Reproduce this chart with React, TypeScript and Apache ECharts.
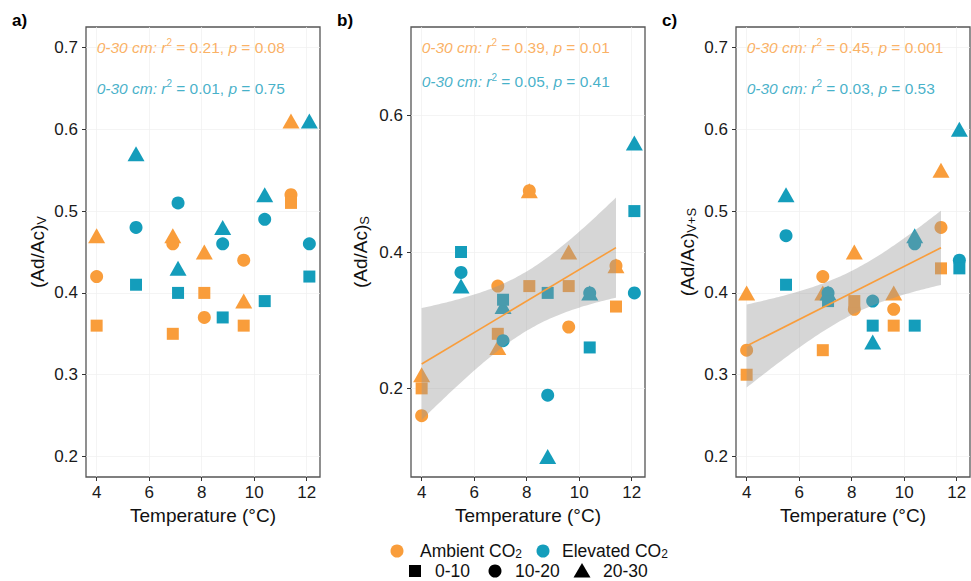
import React, { useEffect, useRef } from 'react';
import * as echarts from 'echarts';

// ---------- data ----------
const ambientTemps = [4, 6.9, 8.1, 9.6, 11.4];
const elevatedTemps = [5.5, 7.1, 8.8, 10.4, 12.1];
const depthLabels = ['0-10', '10-20', '20-30'];
const xTicks = [4, 6, 8, 10, 12];
const yTicksAC = [0.2, 0.3, 0.4, 0.5, 0.6, 0.7];
const yTicksB = [0.2, 0.4, 0.6];

// Panel a: (Ad/Ac)V
const vAmbient010 = [0.36, 0.35, 0.4, 0.36, 0.51];
const vAmbient1020 = [0.42, 0.46, 0.37, 0.44, 0.52];
const vAmbient2030 = [0.47, 0.47, 0.45, 0.39, 0.61];
const vElevated010 = [0.41, 0.4, 0.37, 0.39, 0.42];
const vElevated1020 = [0.48, 0.51, 0.46, 0.49, 0.46];
const vElevated2030 = [0.57, 0.43, 0.48, 0.52, 0.61];

// Panel b: (Ad/Ac)S
const sAmbient010 = [0.2, 0.28, 0.35, 0.35, 0.32];
const sAmbient1020 = [0.16, 0.35, 0.49, 0.29, 0.38];
const sAmbient2030 = [0.22, 0.26, 0.49, 0.4, 0.38];
const sElevated010 = [0.4, 0.33, 0.34, 0.26, 0.46];
const sElevated1020 = [0.37, 0.27, 0.19, 0.34, 0.34];
const sElevated2030 = [0.35, 0.32, 0.1, 0.34, 0.56];

// Panel c: (Ad/Ac)V+S
const vsAmbient010 = [0.3, 0.33, 0.39, 0.36, 0.43];
const vsAmbient1020 = [0.33, 0.42, 0.38, 0.38, 0.48];
const vsAmbient2030 = [0.4, 0.4, 0.45, 0.4, 0.55];
const vsElevated010 = [0.41, 0.39, 0.36, 0.36, 0.43];
const vsElevated1020 = [0.47, 0.4, 0.39, 0.46, 0.44];
const vsElevated2030 = [0.52, 0.4, 0.34, 0.47, 0.6];

// statistics text
const panelLetters = ['a)', 'b)', 'c)'];
const ySubscripts = ['V', 'S', 'V+S'];
const r2Ambient = ['0.21', '0.39', '0.45'];
const pAmbient = ['0.08', '0.01', '0.001'];
const r2Elevated = ['0.01', '0.05', '0.03'];
const pElevated = ['0.75', '0.41', '0.53'];
const showFit = [false, true, true];

// ---------- styles / layout ----------
const ORANGE = '#F99D3B';
const BLUE = '#149DBB';
const FONT = "'Liberation Sans', Arial, Helvetica, sans-serif";
const gridLefts = [86, 411, 736];
const gridTop = 27;
const gridWidth = 234;
const gridHeight = 450;
const yTitleX = [37, 360, 687];
const letterX = [12, 337, 662];
const yRanges = [
  [0.175, 0.725],
  [0.07, 0.73],
  [0.175, 0.725],
];
const symbols = ['rect', 'circle', 'triangle'];
const symbolSizes: any[] = [12, 13, [17, 15]];
const T95_DF13 = 2.1604;

const panelAmbient = [
  [vAmbient010, vAmbient1020, vAmbient2030],
  [sAmbient010, sAmbient1020, sAmbient2030],
  [vsAmbient010, vsAmbient1020, vsAmbient2030],
];
const panelElevated = [
  [vElevated010, vElevated1020, vElevated2030],
  [sElevated010, sElevated1020, sElevated2030],
  [vsElevated010, vsElevated1020, vsElevated2030],
];

function linearFit(xs: number[], ys: number[]) {
  const n = xs.length;
  const mx = xs.reduce((a, b) => a + b, 0) / n;
  const my = ys.reduce((a, b) => a + b, 0) / n;
  let sxx = 0;
  let sxy = 0;
  for (let i = 0; i < n; i++) {
    sxx += (xs[i] - mx) ** 2;
    sxy += (xs[i] - mx) * (ys[i] - my);
  }
  const slope = sxy / sxx;
  const intercept = my - slope * mx;
  let sse = 0;
  for (let i = 0; i < n; i++) sse += (ys[i] - intercept - slope * xs[i]) ** 2;
  const s = Math.sqrt(sse / (n - 2));
  const xmin = Math.min(...xs);
  const xmax = Math.max(...xs);
  const upper: number[][] = [];
  const lower: number[][] = [];
  const steps = 80;
  for (let k = 0; k < steps; k++) {
    const x = xmin + ((xmax - xmin) * k) / (steps - 1);
    const yhat = intercept + slope * x;
    const se = s * Math.sqrt(1 / n + (x - mx) ** 2 / sxx);
    upper.push([x, yhat + T95_DF13 * se]);
    lower.push([x, yhat - T95_DF13 * se]);
  }
  return {
    line: [
      [xmin, intercept + slope * xmin],
      [xmax, intercept + slope * xmax],
    ],
    upper,
    lower,
  };
}

function buildOption() {
  const grids: any[] = [];
  const xAxes: any[] = [];
  const yAxes: any[] = [];
  const series: any[] = [];
  const graphics: any[] = [];

  for (let i = 0; i < 3; i++) {
    grids.push({
      left: gridLefts[i],
      top: gridTop,
      width: gridWidth,
      height: gridHeight,
      show: true,
      borderColor: '#555555',
      borderWidth: 1.3,
      backgroundColor: 'transparent',
      containLabel: false,
      outerBoundsMode: 'none',
    });
    xAxes.push({
      type: 'value',
      gridIndex: i,
      min: 3.595,
      max: 12.505,
      axisLine: { show: false },
      axisTick: { show: true, length: 4, lineStyle: { color: '#333', width: 1 }, customValues: xTicks },
      axisLabel: { customValues: xTicks, fontSize: 17, color: '#1a1a1a', margin: 7, fontFamily: FONT },
      splitLine: { show: true, lineStyle: { color: '#EFEFEF', width: 0.7 } },
      name: 'Temperature (°C)',
      nameLocation: 'middle',
      nameGap: 25,
      nameTextStyle: { fontSize: 19, color: '#111', fontFamily: FONT },
    });
    const yt = i === 1 ? yTicksB : yTicksAC;
    yAxes.push({
      type: 'value',
      gridIndex: i,
      min: yRanges[i][0],
      max: yRanges[i][1],
      axisLine: { show: false },
      axisTick: { show: true, length: 4, lineStyle: { color: '#333', width: 1 }, customValues: yt },
      axisLabel: {
        customValues: yt,
        fontSize: 17,
        color: '#1a1a1a',
        margin: 8,
        fontFamily: FONT,
        formatter: (v: number) => v.toFixed(1),
      },
      splitLine: { show: true, lineStyle: { color: '#EFEFEF', width: 0.7 } },
    });

    // points
    for (let d = 2; d >= 0; d--) {
      series.push({
        type: 'scatter',
        name: 'Ambient ' + depthLabels[d],
        xAxisIndex: i,
        yAxisIndex: i,
        symbol: symbols[d],
        symbolSize: symbolSizes[d],
        itemStyle: { color: ORANGE, opacity: 1 },
        silent: true,
        z: 2,
        data: ambientTemps.map((t, j) => [t, panelAmbient[i][d][j]]),
      });
    }
    for (let d = 2; d >= 0; d--) {
      series.push({
        type: 'scatter',
        name: 'Elevated ' + depthLabels[d],
        xAxisIndex: i,
        yAxisIndex: i,
        symbol: symbols[d],
        symbolSize: symbolSizes[d],
        itemStyle: { color: BLUE, opacity: 1 },
        silent: true,
        z: 2,
        data: elevatedTemps.map((t, j) => [t, panelElevated[i][d][j]]),
      });
    }

    // regression for ambient
    if (showFit[i]) {
      const xs: number[] = [];
      const ys: number[] = [];
      for (let d = 0; d < 3; d++) {
        ambientTemps.forEach((t, j) => {
          xs.push(t);
          ys.push(panelAmbient[i][d][j]);
        });
      }
      const fit = linearFit(xs, ys);
      const upper = fit.upper;
      const lower = fit.lower.slice().reverse();
      series.push({
        type: 'custom',
        xAxisIndex: i,
        yAxisIndex: i,
        silent: true,
        z: 3,
        data: [fit.line[0]],
        encode: { x: 0, y: 1 },
        renderItem: (_p: any, api: any) => {
          const pts = upper.concat(lower).map((pt) => api.coord(pt));
          return {
            type: 'polygon',
            shape: { points: pts },
            style: { fill: 'rgba(153,153,153,0.4)', stroke: 'none' },
          };
        },
      });
      series.push({
        type: 'line',
        xAxisIndex: i,
        yAxisIndex: i,
        silent: true,
        z: 4,
        showSymbol: false,
        symbol: 'none',
        lineStyle: { color: ORANGE, width: 1.6 },
        data: fit.line,
      });
    }

    // annotation texts anchored at data coordinates (x = 4, y = 0.70 / 0.65)
    const annos = [
      { y: 0.7, color: ORANGE, r2: r2Ambient[i], p: pAmbient[i] },
      { y: 0.65, color: BLUE, r2: r2Elevated[i], p: pElevated[i] },
    ];
    annos.forEach((a) => {
      series.push({
        type: 'scatter',
        xAxisIndex: i,
        yAxisIndex: i,
        silent: true,
        z: 5,
        symbolSize: 0,
        data: [[4, a.y]],
        label: {
          show: true,
          position: 'right',
          distance: 0,
          formatter: `{i|0-30 cm:} {i|r}{sup|2} = ${a.r2}, {i|p} = ${a.p}`,
          color: a.color,
          fontSize: 15.5,
          fontFamily: FONT,
          rich: {
            i: { fontStyle: 'italic', color: a.color, fontSize: 15.5, fontFamily: FONT },
            sup: { color: a.color, fontSize: 10, fontFamily: FONT, padding: [0, 0, 9, 0] },
          },
        },
      });
    });

    // panel letters
    graphics.push({
      type: 'text',
      left: letterX[i],
      top: 12,
      style: { text: panelLetters[i], fontSize: 17, fontWeight: 'bold', fill: '#000', fontFamily: FONT },
    });
    // y axis titles
    graphics.push({
      type: 'text',
      x: yTitleX[i],
      y: gridTop + gridHeight / 2,
      rotation: Math.PI / 2,
      style: {
        text: '(Ad/Ac){sub|' + ySubscripts[i] + '}',
        fontSize: 19,
        fill: '#111',
        fontFamily: FONT,
        align: 'center',
        verticalAlign: 'middle',
        rich: {
          sub: { fontSize: 13, fill: '#111', fontFamily: FONT, padding: [8, 0, 0, 0] },
        },
      },
    });
  }

  // legend
  const row1 = 551;
  const row2 = 571;
  const legendText = (x: number, y: number, text: string) => ({
    type: 'text',
    x,
    y,
    style: {
      text,
      fontSize: 17.5,
      lineHeight: 18,
      fill: '#111',
      fontFamily: FONT,
      align: 'left',
      verticalAlign: 'middle',
      rich: { sub: { fontSize: 12, lineHeight: 14, fill: '#111', fontFamily: FONT, padding: [6, 0, 0, 0] } },
    },
  });
  graphics.push({ type: 'circle', shape: { cx: 397, cy: row1, r: 6.5 }, style: { fill: ORANGE } });
  graphics.push(legendText(420, row1, 'Ambient CO{sub|2}'));
  graphics.push({ type: 'circle', shape: { cx: 543, cy: row1, r: 6.5 }, style: { fill: BLUE } });
  graphics.push(legendText(562, row1, 'Elevated CO{sub|2}'));
  graphics.push({ type: 'rect', shape: { x: 409, y: row2 - 6, width: 12, height: 12 }, style: { fill: '#000' } });
  graphics.push(legendText(435, row2, depthLabels[0]));
  graphics.push({ type: 'circle', shape: { cx: 495, cy: row2, r: 6.5 }, style: { fill: '#000' } });
  graphics.push(legendText(515, row2, depthLabels[1]));
  graphics.push({
    type: 'polygon',
    shape: {
      points: [
        [582 - 8.5, row2 + 6.5],
        [582 + 8.5, row2 + 6.5],
        [582, row2 - 8],
      ],
    },
    style: { fill: '#000' },
  });
  graphics.push(legendText(603, row2, depthLabels[2]));

  return {
    animation: false,
    backgroundColor: '#ffffff',
    textStyle: { fontFamily: FONT },
    grid: grids,
    xAxis: xAxes,
    yAxis: yAxes,
    series,
    graphic: graphics,
  };
}

export default function App() {
  const ref = useRef<HTMLDivElement>(null);
  useEffect(() => {
    if (!ref.current) return;
    const chart = echarts.init(ref.current, undefined, { renderer: 'svg' });
    chart.setOption(buildOption() as any);
    return () => chart.dispose();
  }, []);
  return (
    <div
      ref={ref}
      style={{ position: 'fixed', left: 0, top: 0, width: 971, height: 581, background: '#fff' }}
    />
  );
}
